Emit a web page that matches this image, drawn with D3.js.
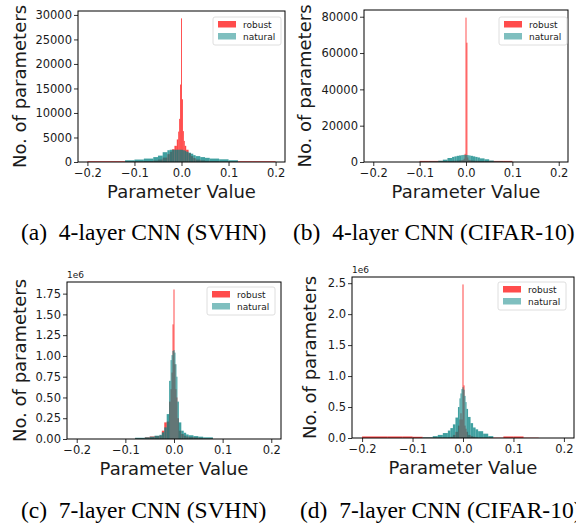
<!DOCTYPE html>
<html>
<head>
<meta charset="utf-8">
<script src="https://cdn.jsdelivr.net/npm/d3@7"></script>
<style>
  body { margin: 0; background: #fff; }
  svg { display: block; }
</style>
</head>
<body>
<div class="figure"></div>
<script>
const svgWidth = 576;
const svgHeight = 527;

// histogram bin edges (parameter value), shared by every panel
const binEdges = [-0.2, -0.15, -0.12, -0.1, -0.08, -0.06, -0.05, -0.04, -0.03, -0.025, -0.02,
  -0.015, -0.01, -0.007, -0.005, -0.003, -0.001, 0.001, 0.003, 0.005, 0.007, 0.01, 0.015,
  0.02, 0.025, 0.03, 0.04, 0.05, 0.06, 0.08, 0.1, 0.12, 0.15, 0.2];

// (a) 4-layer CNN (SVHN)
const robustA = [150, 150, 150, 150, 200, 300, 500, 900, 1600, 2100, 2600, 3300, 4600, 6200, 8800,
  15800, 29300, 12800, 6300, 4300, 3300, 2500, 1800, 1200, 800, 500, 350, 250, 200, 150, 150, 150, 150];
const naturalA = [0, 0, 350, 500, 700, 1000, 1300, 2000, 2400, 2500, 2500, 2500, 2500, 2500, 2500,
  2500, 2500, 2500, 2400, 2400, 2300, 2100, 1900, 1700, 1400, 1200, 1000, 850, 700, 550, 350, 0, 0];

// (b) 4-layer CNN (CIFAR-10)
const robustB = [0, 0, 0, 600, 600, 600, 600, 600, 700, 700, 800, 900, 1000, 1200, 1800, 4500,
  79500, 65700, 2500, 1200, 1000, 900, 800, 700, 700, 600, 600, 600, 600, 600, 0, 0, 0];
const naturalB = [0, 0, 0, 200, 300, 700, 1300, 2200, 2800, 3100, 3400, 3600, 3800, 3900, 3900,
  3900, 3900, 3900, 3800, 3700, 3600, 3400, 3100, 2800, 2500, 2000, 1500, 800, 300, 200, 0, 0, 0];

// (c) 7-layer CNN (SVHN)
const robustC = [0, 0, 0, 0, 10000, 20000, 30000, 35000, 40000, 100000, 200000, 210000, 450000,
  600000, 800000, 1380000, 1800000, 900000, 600000, 500000, 250000, 100000, 60000, 40000, 30000,
  25000, 20000, 15000, 10000, 0, 0, 0, 0];
const naturalC = [0, 0, 0, 0, 15000, 20000, 28000, 40000, 50000, 80000, 140000, 300000, 700000,
  950000, 1010000, 1060000, 1070000, 1040000, 900000, 750000, 450000, 200000, 100000, 75000, 55000,
  45000, 35000, 28000, 20000, 0, 0, 0, 0];

// (d) 7-layer CNN (CIFAR-10)
const robustD = [25000, 25000, 25000, 20000, 5000, 5000, 5000, 5000, 10000, 20000, 50000, 100000,
  200000, 300000, 400000, 300000, 2480000, 850000, 200000, 150000, 100000, 50000, 30000, 20000,
  10000, 5000, 5000, 5000, 5000, 25000, 25000, 5000, 0];
const naturalD = [0, 0, 0, 0, 10000, 30000, 50000, 80000, 120000, 160000, 220000, 330000, 500000,
  640000, 720000, 790000, 820000, 780000, 680000, 580000, 470000, 340000, 240000, 170000, 140000,
  110000, 70000, 30000, 0, 0, 0, 0, 0];

// ticks
const xTicks = [-0.2, -0.1, 0.0, 0.1, 0.2];
const yTicksA = [0, 5000, 10000, 15000, 20000, 25000, 30000];
const yTicksB = [0, 20000, 40000, 60000, 80000];
const yTicksC = [0, 250000, 500000, 750000, 1000000, 1250000, 1500000, 1750000];
const yTicksD = [0, 500000, 1000000, 1500000, 2000000, 2500000];

const seriesNames = ["robust", "natural"];
const captions = ["(a)\u20024-layer CNN (SVHN)", "(b)\u20024-layer CNN (CIFAR-10)",
  "(c)\u20027-layer CNN (SVHN)", "(d)\u20027-layer CNN (CIFAR-10)"];

const robustColor = "#ff0000";
const naturalColor = "#008080";

const fmtMinus = s => s.replace("-", "\u2212");

const panels = [
  { robust: robustA, natural: naturalA, yMax: 30800, yTicks: yTicksA, yFmt: d => d3.format("d")(d),
    box: { left: 78, right: 285, top: 11, bottom: 162 }, offsetText: null,
    legend: { x: 213, y: 17 }, labelX: 26, caption: captions[0], capX: 21, capY: 240 },
  { robust: robustB, natural: naturalB, yMax: 83700, yTicks: yTicksB, yFmt: d => d3.format("d")(d),
    box: { left: 364, right: 568, top: 10, bottom: 162 }, offsetText: null,
    legend: { x: 499, y: 17 }, labelX: 311, caption: captions[1], capX: 293, capY: 240 },
  { robust: robustC, natural: naturalC, yMax: 1890000, yTicks: yTicksC, yFmt: d => d3.format(".2f")(d / 1e6),
    box: { left: 67, right: 281, top: 282, bottom: 439 }, offsetText: "1e6",
    legend: { x: 207, y: 287 }, labelX: 26, caption: captions[2], capX: 21, capY: 518 },
  { robust: robustD, natural: naturalD, yMax: 2600000, yTicks: yTicksD, yFmt: d => d3.format(".1f")(d / 1e6),
    box: { left: 352, right: 574, top: 277, bottom: 438 }, offsetText: "1e6",
    legend: { x: 498, y: 282 }, labelX: 316, caption: captions[3], capX: 300, capY: 518 }
];

const svg = d3.select(".figure")
  .append("svg")
  .attr("width", svgWidth)
  .attr("height", svgHeight)
  .style("font-family", "'DejaVu Sans', sans-serif");

function drawPanel(p) {
  const x = d3.scaleLinear().domain([-0.22, 0.22]).range([p.box.left, p.box.right]);
  const y = d3.scaleLinear().domain([0, p.yMax]).range([p.box.bottom, p.box.top]);

  const g = svg.append("g");

  // bars: robust underneath, natural on top
  const series = [
    { name: "robust", values: p.robust, color: robustColor, opacity: 0.72 },
    { name: "natural", values: p.natural, color: naturalColor, opacity: 0.75 }
  ];
  series.forEach(s => {
    g.append("g")
      .selectAll("rect")
      .data(s.values.map((v, i) => ({ x0: binEdges[i], x1: binEdges[i + 1], v: v })).filter(d => d.v > 0))
      .enter()
      .append("rect")
      .attr("x", d => x(d.x0))
      .attr("width", d => Math.max(0.8, x(d.x1) - x(d.x0)))
      .attr("y", d => y(d.v))
      .attr("height", d => y(0) - y(d.v))
      .attr("fill", s.color)
      .attr("fill-opacity", s.opacity);
  });

  // axes
  const bottomAxis = d3.axisBottom(x).tickValues(xTicks).tickSize(4).tickPadding(3)
    .tickFormat(d => fmtMinus(d3.format(".1f")(d)));
  const leftAxis = d3.axisLeft(y).tickValues(p.yTicks).tickSize(4).tickPadding(2)
    .tickFormat(p.yFmt);

  const xAxisG = g.append("g")
    .attr("transform", `translate(0, ${p.box.bottom})`)
    .call(bottomAxis);
  const yAxisG = g.append("g")
    .attr("transform", `translate(${p.box.left}, 0)`)
    .call(leftAxis);

  [xAxisG, yAxisG].forEach(a => {
    a.select(".domain").remove();
    a.selectAll("text").attr("font-size", "11.5px").attr("fill", "#1a1a1a")
      .style("font-family", "'DejaVu Sans', sans-serif");
    a.selectAll("line").attr("stroke", "#000").attr("stroke-width", 0.8);
  });

  // frame
  g.append("rect")
    .attr("x", p.box.left)
    .attr("y", p.box.top)
    .attr("width", p.box.right - p.box.left)
    .attr("height", p.box.bottom - p.box.top)
    .attr("fill", "none")
    .attr("stroke", "#000")
    .attr("stroke-width", 1);

  if (p.offsetText) {
    g.append("text")
      .attr("x", p.box.left)
      .attr("y", p.box.top - 4)
      .attr("font-size", "9px")
      .attr("fill", "#1a1a1a")
      .text(p.offsetText);
  }

  // axis titles
  g.append("text")
    .attr("x", (p.box.left + p.box.right) / 2)
    .attr("y", p.box.bottom + 36)
    .attr("text-anchor", "middle")
    .attr("font-size", "18px")
    .attr("fill", "#1a1a1a")
    .text("Parameter Value");

  g.append("text")
    .attr("transform", `translate(${p.labelX}, ${(p.box.top + p.box.bottom) / 2}) rotate(-90)`)
    .attr("text-anchor", "middle")
    .attr("font-size", "18px")
    .attr("fill", "#1a1a1a")
    .text("No. of parameters");

  // legend
  const leg = g.append("g").attr("transform", `translate(${p.legend.x}, ${p.legend.y})`);
  leg.append("rect")
    .attr("width", 68)
    .attr("height", 28)
    .attr("rx", 2)
    .attr("fill", "#fff")
    .attr("fill-opacity", 0.8)
    .attr("stroke", "#d5d5d5")
    .attr("stroke-width", 0.8);
  [robustColor, naturalColor].forEach((c, i) => {
    leg.append("rect")
      .attr("x", 5)
      .attr("y", 4 + i * 12)
      .attr("width", 18)
      .attr("height", 6.5)
      .attr("fill", c)
      .attr("fill-opacity", i === 0 ? 0.7 : 0.5);
    leg.append("text")
      .attr("x", 30)
      .attr("y", 10.5 + i * 12)
      .attr("font-size", "9px")
      .attr("fill", "#1a1a1a")
      .text(seriesNames[i]);
  });

  // sub-caption
  svg.append("text")
    .attr("x", p.capX)
    .attr("y", p.capY)
    .attr("font-size", "23.5px")
    .style("font-family", "'Liberation Serif', 'Times New Roman', serif")
    .attr("fill", "#000")
    .text(p.caption);
}

panels.forEach(drawPanel);
</script>
</body>
</html>
